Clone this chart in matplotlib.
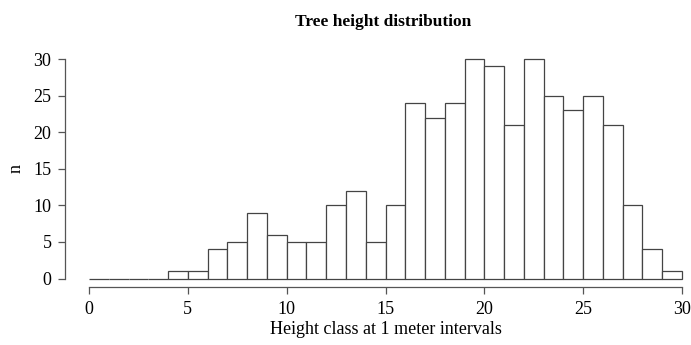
import numpy as np
import matplotlib
matplotlib.use('Agg')
import matplotlib.pyplot as plt

# counts per 1 m height class, 0-1 ... 29-30
bin_edges = np.arange(0, 31)
counts = [0, 0, 0, 0, 1, 1, 4, 5, 9, 6,
          5, 5, 10, 12, 5, 10, 24, 22, 24, 30,
          29, 21, 30, 25, 23, 25, 21, 10, 4, 1]
x_ticks = [0, 5, 10, 15, 20, 25, 30]
y_ticks = [0, 5, 10, 15, 20, 25, 30]

plt.rcParams['font.family'] = ['Liberation Serif', 'DejaVu Serif']
line_col = '#555555'

fig = plt.figure(figsize=(6.91, 3.45), dpi=100)
ax = fig.add_axes([65.3 / 691, 57.7 / 345, 640.4 / 691, 237.0 / 345])

ax.bar(bin_edges[:-1], counts, width=1, align='edge', color='white',
       edgecolor='#444444', linewidth=0.9)

ax.set_xlim(-1.2, 31.2)
ax.set_ylim(-1.2, 31.2)
ax.set_xticks(x_ticks)
ax.set_yticks(y_ticks)
for s in ['top', 'right']:
    ax.spines[s].set_visible(False)
ax.spines['left'].set_bounds(0, 30)
ax.spines['bottom'].set_bounds(0, 30)
for s in ['left', 'bottom']:
    ax.spines[s].set_color(line_col)
    ax.spines[s].set_linewidth(0.9)
ax.tick_params(length=5, width=0.9, color=line_col, labelsize=13, pad=5)

ax.set_xlabel('Height class at 1 meter intervals', fontsize=13, labelpad=2)
ax.set_ylabel('n', fontsize=13, labelpad=6)
fig.text(383 / 691, 1 - 22 / 345, 'Tree height distribution', ha='center',
         va='center', fontsize=12.5, fontweight='bold')

fig.savefig('out.png', dpi=100)
